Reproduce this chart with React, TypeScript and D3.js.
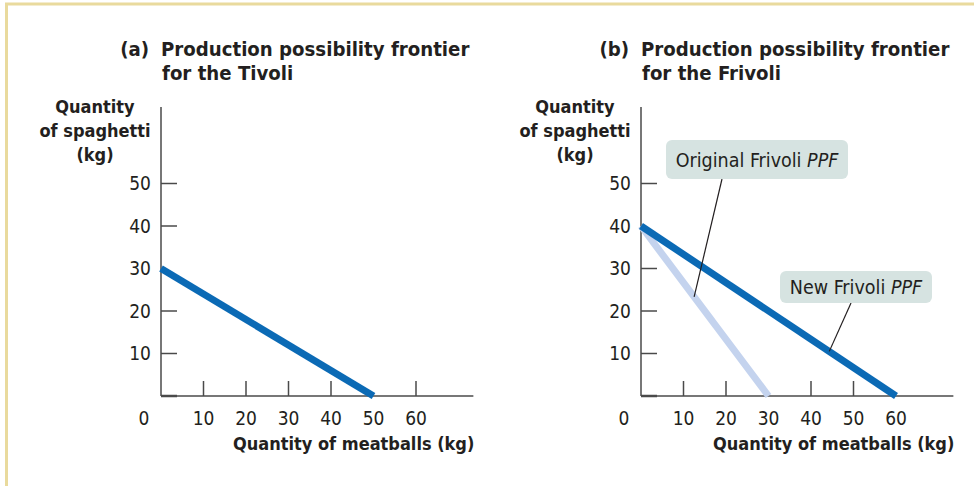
import React from "react";
import * as d3 from "d3";

// Production possibility frontiers: [meatballs, spaghetti] endpoints (kg)
const tivoliPPF = [[0, 30], [50, 0]];
const frivoliOriginalPPF = [[0, 40], [30, 0]];
const frivoliNewPPF = [[0, 40], [60, 0]];

const xTickLabels = [0, 10, 20, 30, 40, 50, 60];
const yTickLabels = [0, 10, 20, 30, 40, 50];
const tivoliXTicks = [10, 20, 30, 40, 60];
const tivoliYTicks = [10, 20, 40, 50];
const frivoliXTicks = [10, 20, 40, 50];
const frivoliYTicks = [10, 20, 30, 50];

const titles = [
  ["(a)", "Production possibility frontier", "for the Tivoli"],
  ["(b)", "Production possibility frontier", "for the Frivoli"],
];

const FONT = "'DejaVu Sans Condensed', 'DejaVu Sans', sans-serif";
const TEXT = "#231f20";
const AXIS = "#4a4a4a";
const DARK_BLUE = "#0b6ab5";
const LIGHT_BLUE = "#c4d3ee";
const BOX = "#d6e3e1";

function Panel(props) {
  const { ox, title, lines, xTicks, yTicks, callouts } = props;
  const x = d3.scaleLinear().domain([0, 10]).range([ox, ox + 42.5]);
  const y = d3.scaleLinear().domain([0, 10]).range([396, 353.5]);
  const line = d3
    .line()
    .x((d) => x(d[0]))
    .y((d) => y(d[1]));
  const axisEnd = x(73.5);
  const labelCx = ox - 66;

  return (
    <g>
      <text fontFamily={FONT} fontWeight="bold" fontSize={20.2} fill={TEXT}>
        <tspan x={ox - 12} y={56} textAnchor="end">{title[0]}</tspan>
        <tspan x={ox} y={56}>{title[1]}</tspan>
        <tspan x={ox + 1} y={80}>{title[2]}</tspan>
      </text>

      <text fontFamily={FONT} fontWeight="bold" fontSize={18} fill={TEXT} textAnchor="middle">
        <tspan x={labelCx} y={113}>Quantity</tspan>
        <tspan x={labelCx} y={137}>of spaghetti</tspan>
        <tspan x={labelCx} y={161}>(kg)</tspan>
      </text>

      <text
        x={axisEnd + 1}
        y={450}
        fontFamily={FONT}
        fontWeight="bold"
        fontSize={18}
        fill={TEXT}
        textAnchor="end"
      >
        Quantity of meatballs (kg)
      </text>

      {/* axes */}
      <line x1={x(0)} x2={x(0)} y1={y(0)} y2={107} stroke={AXIS} strokeWidth={1.5} />
      <line x1={x(0)} x2={axisEnd} y1={y(0)} y2={y(0)} stroke={AXIS} strokeWidth={1.5} />
      <line x1={x(0)} x2={x(0) + 16} y1={y(0)} y2={y(0)} stroke={AXIS} strokeWidth={2.5} />
      {yTicks.map((t) => (
        <line key={"y" + t} x1={x(0)} x2={x(0) + 16} y1={y(t)} y2={y(t)} stroke={AXIS} strokeWidth={1.5} />
      ))}
      {xTicks.map((t) => (
        <line key={"x" + t} x1={x(t)} x2={x(t)} y1={y(0)} y2={y(0) - 15} stroke={AXIS} strokeWidth={1.5} />
      ))}

      {/* tick labels */}
      <g fontFamily={FONT} fontSize={19} fill={TEXT}>
        {yTickLabels.slice(1).map((t) => (
          <text key={"yl" + t} x={x(0) - 10} y={y(t)} dy="0.36em" textAnchor="end">
            {t}
          </text>
        ))}
        <text x={x(0) - 17} y={y(0) + 22} dy="0.36em" textAnchor="middle">0</text>
        {xTickLabels.slice(1).map((t) => (
          <text key={"xl" + t} x={x(t)} y={y(0) + 22} dy="0.36em" textAnchor="middle">
            {t}
          </text>
        ))}
      </g>

      {/* frontiers */}
      {lines.map((l, i) => (
        <path key={i} d={line(l.data)} fill="none" stroke={l.color} strokeWidth={7} />
      ))}

      {/* callouts */}
      {callouts.map((c, i) => (
        <g key={"c" + i}>
          <line
            x1={c.from[0]}
            y1={c.from[1]}
            x2={x(c.at[0])}
            y2={y(c.at[1])}
            stroke={TEXT}
            strokeWidth={1.2}
          />
          <rect x={c.box[0]} y={c.box[1]} width={c.box[2]} height={c.box[3]} rx={6} fill={BOX} />
          <text
            x={c.box[0] + c.box[2] / 2}
            y={c.box[1] + c.box[3] / 2}
            dy="0.36em"
            textAnchor="middle"
            fontFamily={FONT}
            fontSize={19.5}
            fill={TEXT}
          >
            {c.label}
            <tspan fontStyle="italic"> PPF</tspan>
          </text>
        </g>
      ))}
    </g>
  );
}

export default function App() {
  return (
    <svg
      width={974}
      height={486}
      style={{ position: "absolute", left: 0, top: 0, background: "#fff" }}
    >
      <rect x={0} y={0} width={974} height={486} fill="#fff" />
      <line x1={5} x2={974} y1={4} y2={4} stroke="#e9da9d" strokeWidth={3} />
      <line x1={6.5} x2={6.5} y1={3} y2={486} stroke="#e9da9d" strokeWidth={3} />

      <Panel
        ox={161}
        title={titles[0]}
        xTicks={tivoliXTicks}
        yTicks={tivoliYTicks}
        lines={[{ data: tivoliPPF, color: DARK_BLUE }]}
        callouts={[]}
      />
      <Panel
        ox={641}
        title={titles[1]}
        xTicks={frivoliXTicks}
        yTicks={frivoliYTicks}
        lines={[
          { data: frivoliOriginalPPF, color: LIGHT_BLUE },
          { data: frivoliNewPPF, color: DARK_BLUE },
        ]}
        callouts={[
          { label: "Original Frivoli", box: [666, 140, 182, 39], from: [722, 179], at: [12.5, 23.3] },
          { label: "New Frivoli", box: [780, 271, 152, 32], from: [851, 303], at: [44.3, 10.5] },
        ]}
      />
    </svg>
  );
}
